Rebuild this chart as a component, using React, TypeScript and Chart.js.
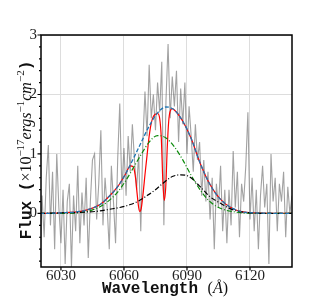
import React, { useEffect, useRef } from "react";
import { Chart, registerables } from "chart.js";
Chart.register(...registerables);

const xTicks = [6030, 6060, 6090, 6120];
const yTicks = [0, 1, 2, 3];
const xMin = 6020.5;
const xMax = 6140;
const yMin = -0.9;
const yMax = 3;

// observed spectrum, 1 Å sampling starting at 6020 Å
const specStart = 6020;
const specFlux = [
  -0.85, 0.3, -0.4, 0.6, 1.15, -0.2, 0.7, -0.6, 1.0, 0.1,
  -0.5, 0.4, -0.85, 0.2, 0.5, -0.9, 0.3, -0.3, 0.8, -0.5,
  0.35, -0.2, 0.6, -0.75, 0.2, 0.9, 1.0, -0.1, 0.5, 1.4,
  -0.2, 0.6, 0.1, -0.6, 0.8, 0.2, -0.5, 0.9, 1.85, 0.4,
  1.1, 0.3, 1.3, 0.7, 1.5, 0.9, 0.4, 1.0, -0.3, 1.2,
  2.05, 1.3, 2.5, 1.6, 2.0, 1.4, 2.2, 1.7, 2.55, -0.2,
  1.9, 2.85, 1.6, 2.3, 1.8, 2.4, 1.2, 2.1, 1.5, 2.2,
  1.0, 1.8, 1.3, 0.7, 1.5, 0.9, 1.2, 0.3, 0.9, 0.2,
  0.7, -0.1, 0.6, -0.6, 0.5, 0.1, 0.8, -0.3, 0.4, -0.5,
  0.4, -0.2, 1.05, 0.1, 0.7, -0.4, 0.5, 0.2, 0.8, 1.7,
  -0.1, 0.6, -0.3, 0.4, -0.6, 0.3, 0.8, 0.1, 0.5, -0.85,
  1.0, 0.2, 0.6, -0.3, 0.5, 0.2, 0.7, -0.4, 0.45, 0.0,
  0.3,
];

// green component
const greenWave = [6020, 6036, 6040, 6045, 6049, 6053, 6057, 6061, 6065, 6068, 6072, 6076, 6080, 6084, 6088, 6092, 6096, 6100, 6104, 6108, 6112, 6116, 6122, 6140];
const greenFlux = [0, 0.005, 0.02, 0.06, 0.12, 0.22, 0.36, 0.56, 0.8, 0.98, 1.2, 1.31, 1.27, 1.12, 0.9, 0.64, 0.41, 0.23, 0.12, 0.06, 0.03, 0.01, 0, 0];

// black component
const blackWave = [6020, 6030, 6040, 6048, 6053, 6058, 6063, 6067, 6071, 6075, 6079, 6083, 6087, 6091, 6096, 6101, 6106, 6110, 6114, 6120, 6128, 6140];
const blackFlux = [0, 0.01, 0.02, 0.04, 0.07, 0.1, 0.15, 0.21, 0.3, 0.4, 0.52, 0.62, 0.65, 0.62, 0.46, 0.28, 0.17, 0.09, 0.04, 0.01, 0, 0];

// total (blue)
const blueWave = [6020, 6030, 6040, 6045, 6049, 6053, 6057, 6061, 6065, 6068, 6072, 6076, 6080, 6084, 6088, 6092, 6096, 6100, 6104, 6108, 6112, 6116, 6122, 6140];
const blueFlux = [0, 0.01, 0.04, 0.09, 0.16, 0.29, 0.45, 0.68, 0.96, 1.18, 1.47, 1.69, 1.79, 1.74, 1.55, 1.26, 0.87, 0.55, 0.32, 0.17, 0.08, 0.03, 0.01, 0];

// total with absorption (red)
const redWave = [6020, 6030, 6040, 6045, 6049, 6053, 6057, 6061, 6063, 6064.5, 6065.5, 6066.3, 6067, 6067.6, 6068.2, 6069, 6070, 6071, 6072, 6073, 6074, 6075, 6076, 6077, 6077.8, 6078.5, 6079.2, 6079.9, 6080.6, 6081.3, 6082, 6083, 6084, 6088, 6092, 6096, 6100, 6104, 6108, 6112, 6116, 6122, 6140];
const redFlux = [0, 0.01, 0.04, 0.09, 0.16, 0.29, 0.45, 0.68, 0.8, 0.78, 0.6, 0.32, 0.1, 0.03, 0.08, 0.3, 0.65, 0.98, 1.3, 1.52, 1.63, 1.67, 1.68, 1.6, 1.25, 0.55, 0.22, 0.45, 1.1, 1.55, 1.72, 1.76, 1.74, 1.55, 1.26, 0.87, 0.55, 0.32, 0.17, 0.08, 0.03, 0.01, 0];

const toPts = (w: number[], f: number[]) => w.map((x, i) => ({ x, y: f[i] }));

const MONO = '"Liberation Mono", "DejaVu Sans Mono", monospace';
const SERIF = '"Liberation Serif", "DejaVu Serif", serif';

type Run = { t: string; font: string; dy?: number };

function drawRuns(ctx: CanvasRenderingContext2D, runs: Run[], cx: number, baseY: number) {
  let total = 0;
  const widths = runs.map((r) => {
    ctx.font = r.font;
    const w = ctx.measureText(r.t).width;
    total += w;
    return w;
  });
  let x = cx - total / 2;
  runs.forEach((r, i) => {
    ctx.font = r.font;
    ctx.fillText(r.t, x, baseY + (r.dy || 0));
    x += widths[i];
  });
}

const decor = {
  id: "decor",
  afterDraw(chart: any) {
    const { ctx, chartArea: a } = chart;
    const y = chart.scales.y;
    const x = chart.scales.x;
    ctx.save();
    ctx.strokeStyle = "#000";
    ctx.lineWidth = 1.5;
    ctx.strokeRect(a.left, a.top, a.right - a.left, a.bottom - a.top);
    ctx.lineWidth = 1.2;
    ctx.beginPath();
    for (let k = -4; k <= 15; k++) {
      const v = k * 0.2;
      const py = y.getPixelForValue(v);
      const major = k % 5 === 0;
      ctx.moveTo(a.left, py);
      ctx.lineTo(a.left - (major ? 3.5 : 2), py);
    }
    xTicks.forEach((v) => {
      const px = x.getPixelForValue(v);
      ctx.moveTo(px, a.bottom);
      ctx.lineTo(px, a.bottom + 3.5);
    });
    ctx.stroke();

    ctx.fillStyle = "#111";
    ctx.textBaseline = "alphabetic";
    ctx.textAlign = "left";
    // x title
    drawRuns(
      ctx,
      [
        { t: "Wavelength ", font: `bold 16px ${MONO}` },
        { t: "(", font: `16px ${SERIF}` },
        { t: "Å", font: `italic 16px ${SERIF}` },
        { t: ")", font: `16px ${SERIF}` },
      ],
      165,
      293
    );
    // y title
    ctx.save();
    ctx.translate(31, 150);
    ctx.rotate(-Math.PI / 2);
    drawRuns(
      ctx,
      [
        { t: "Flux (", font: `bold 16px ${MONO}` },
        { t: "×10", font: `16px ${SERIF}` },
        { t: "−17", font: `11px ${SERIF}`, dy: -7 },
        { t: "ergs", font: `italic 16px ${SERIF}` },
        { t: "−1", font: `11px ${SERIF}`, dy: -7 },
        { t: "cm", font: `italic 16px ${SERIF}` },
        { t: "−2", font: `11px ${SERIF}`, dy: -7 },
        { t: ")", font: `bold 16px ${MONO}` },
      ],
      0,
      0
    );
    ctx.restore();
    ctx.restore();
  },
};

export default function App() {
  const ref = useRef<HTMLCanvasElement | null>(null);
  useEffect(() => {
    document.body.style.margin = "0";
    const spec = specFlux.map((f, i) => ({ x: specStart + i, y: f }));
    const chart = new Chart(ref.current as HTMLCanvasElement, {
      type: "line",
      data: {
        datasets: [
          {
            data: toPts(blueWave, blueFlux),
            borderColor: "#1f77b4",
            borderWidth: 1.3,
            borderDash: [4, 2],
            pointRadius: 0,
            cubicInterpolationMode: "monotone",
            order: 1,
          },
          {
            data: toPts(blackWave, blackFlux),
            borderColor: "#000000",
            borderWidth: 1.2,
            borderDash: [5, 2, 1, 2],
            pointRadius: 0,
            cubicInterpolationMode: "monotone",
            order: 2,
          },
          {
            data: toPts(greenWave, greenFlux),
            borderColor: "#0a8a0a",
            borderWidth: 1.2,
            borderDash: [5, 2, 1, 2],
            pointRadius: 0,
            cubicInterpolationMode: "monotone",
            order: 3,
          },
          {
            data: toPts(redWave, redFlux),
            borderColor: "#ff0000",
            borderWidth: 1.2,
            pointRadius: 0,
            cubicInterpolationMode: "monotone",
            order: 4,
          },
          {
            data: spec,
            borderColor: "rgba(100,100,100,0.6)",
            borderWidth: 1.1,
            pointRadius: 0,
            order: 5,
          },
        ],
      },
      options: {
        animation: false,
        responsive: false,
        layout: { padding: { left: 0, right: 33, top: 35, bottom: 0 } },
        plugins: { legend: { display: false }, tooltip: { enabled: false } },
        scales: {
          x: {
            type: "linear",
            min: xMin,
            max: xMax,
            afterFit: (s: any) => {
              s.height = 33;
            },
            afterBuildTicks: (s: any) => {
              s.ticks = xTicks.map((v) => ({ value: v }));
            },
            grid: { color: "#dddddd", lineWidth: 1, drawTicks: false },
            border: { display: false },
            ticks: {
              padding: 0,
              color: "#222",
              font: { family: SERIF, size: 15 },
              maxRotation: 0,
              autoSkip: false,
              callback: (v: any) => String(v),
            },
          },
          y: {
            type: "linear",
            min: yMin,
            max: yMax,
            afterFit: (s: any) => {
              s.width = 41;
            },
            afterBuildTicks: (s: any) => {
              s.ticks = yTicks.map((v) => ({ value: v }));
            },
            grid: { color: "#dddddd", lineWidth: 1, drawTicks: false },
            border: { display: false },
            ticks: {
              padding: 4,
              color: "#222",
              font: { family: SERIF, size: 15 },
              autoSkip: false,
              callback: (v: any) => String(v),
            },
          },
        },
      },
      plugins: [decor],
    } as any);
    return () => chart.destroy();
  }, []);
  return (
    <div style={{ width: 325, height: 300 }}>
      <canvas ref={ref} width={325} height={300} />
    </div>
  );
}
